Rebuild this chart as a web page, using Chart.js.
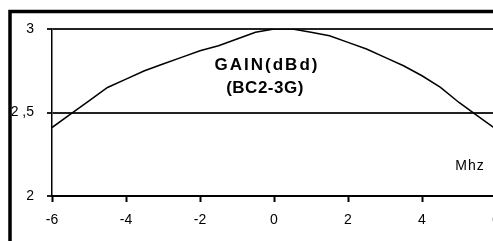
<!DOCTYPE html>
<html>
<head>
<meta charset="utf-8">
<script src="https://cdn.jsdelivr.net/npm/chart.js@4"></script>
<style>
html,body{margin:0;padding:0;background:#fff;overflow:hidden;width:493px;height:241px;}
canvas{display:block;}
</style>
</head>
<body>
<canvas id="c" width="520" height="241"></canvas>
<script>
// Frequency offset (Mhz) and gain (dBd)
const freqs = [-6,-5.5,-5,-4.5,-4,-3.5,-3,-2.5,-2,-1.5,-1,-0.5,0,0.5,1,1.5,2,2.5,3,3.5,4,4.5,5,5.5,6];
const gain  = [2.41,2.49,2.57,2.65,2.70,2.75,2.79,2.83,2.87,2.90,2.94,2.98,3.00,3.00,2.98,2.96,2.92,2.88,2.83,2.78,2.72,2.65,2.56,2.48,2.40];
const xTicks = [-6,-4,-2,0,2,4,6];
const yTicks = [2,2.5,3];
const titleLines = ['GAIN(dBd)','(BC2-3G)'];
const unitLabel = 'Mhz';

const frame = {
  id:'frame',
  afterDraw(chart){
    const ctx = chart.ctx;
    ctx.save();
    ctx.strokeStyle = '#000';
    ctx.lineWidth = 3.5;
    ctx.strokeRect(10, 11.5, 700, 500);
    ctx.fillStyle = '#000';
    ctx.textAlign = 'center';
    ctx.textBaseline = 'middle';
    ctx.font = 'bold 17px "Liberation Sans", Arial, sans-serif';
    ctx.letterSpacing = '2px';
    ctx.fillText(titleLines[0], 267, 65);
    ctx.letterSpacing = '0.5px';
    ctx.fillText(titleLines[1], 265, 88);
    ctx.font = '14px "Liberation Sans", Arial, sans-serif';
    ctx.letterSpacing = '1px';
    ctx.fillText(unitLabel, 470, 166);
    ctx.restore();
  }
};

new Chart(document.getElementById('c'), {
  type:'line',
  data:{
    datasets:[{
      data: freqs.map((f,i)=>({x:f,y:gain[i]})),
      borderColor:'#000',
      borderWidth:1.5,
      pointRadius:0,
      tension:0,
      fill:false
    }]
  },
  options:{
    responsive:false,
    animation:false,
    layout:{padding:{left:0,top:29,right:24,bottom:0}},
    plugins:{legend:{display:false},tooltip:{enabled:false},title:{display:false}},
    scales:{
      x:{
        type:'linear',
        min:-6,max:6,
        afterBuildTicks(s){ s.ticks = xTicks.map(v=>({value:v})); },
        afterFit(s){ s.height = 45; },
        ticks:{color:'#000',font:{family:'"Liberation Sans", Arial, sans-serif',size:14},padding:10,maxRotation:0,autoSkip:false,
          callback:v=>String(v)},
        grid:{drawOnChartArea:false,drawTicks:true,tickLength:6,color:'#000',tickWidth:2},
        border:{color:'#000',width:2}
      },
      y:{
        type:'linear',
        min:2,max:3,
        afterBuildTicks(s){ s.ticks = yTicks.map(v=>({value:v})); },
        afterFit(s){ s.width = 52; },
        ticks:{color:'#000',font:{family:'"Liberation Sans", Arial, sans-serif',size:14},padding:13,
          callback:v=>String(v).replace('.',' ,')},
        grid:{drawOnChartArea:true,drawTicks:true,tickLength:5,color:'#222',lineWidth:2},
        border:{color:'#000',width:1.5}
      }
    }
  },
  plugins:[frame]
});
</script>
</body>
</html>
